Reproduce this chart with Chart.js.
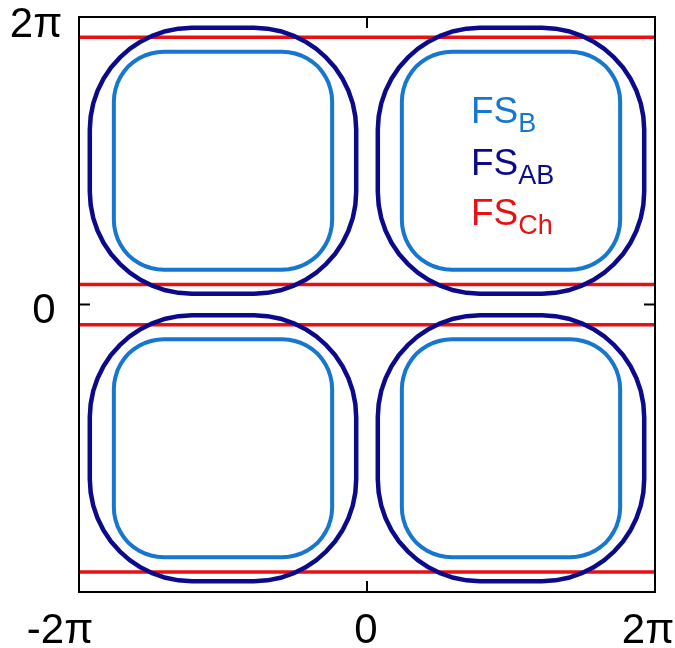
<!DOCTYPE html>
<html>
<head>
<meta charset="utf-8">
<script src="https://cdn.jsdelivr.net/npm/chart.js@4/dist/chart.umd.min.js"></script>
<style>
  html, body { margin: 0; padding: 0; background: #ffffff; }
  #wrap { width: 675px; height: 648px; }
</style>
</head>
<body>
<div id="wrap"><canvas id="c" width="675" height="648"></canvas></div>
<script>
// ---- data (all in units of pi) ----
const xTickValues = [-2, 0, 2];
const xTickLabels = ['-2\u03C0', '0', '2\u03C0'];
const yTickValues = [2, 0];
const yTickLabels = ['2\u03C0', '0'];

// horizontal Fermi-surface sheets (FS_Ch), y levels
const chLevels = [1.86, 0.14, -0.14, -1.86];

// pocket centres (one per quadrant)
const centerX = [-1, 1, -1, 1];
const centerY = [1, 1, -1, -1];

// FS_AB pocket: one corner (top to right) as offsets from pocket centre
const abCornerX = [0, 0.216, 0.308, 0.399, 0.487, 0.570, 0.648, 0.717, 0.778, 0.830, 0.871, 0.901, 0.919, 0.925, 0.925];
const abCornerY = [0.925, 0.925, 0.919, 0.901, 0.871, 0.830, 0.778, 0.717, 0.648, 0.570, 0.487, 0.399, 0.308, 0.216, 0];

// FS_B pocket: one corner (top to right)
const bCornerX = [0, 0.410, 0.456, 0.500, 0.543, 0.584, 0.622, 0.657, 0.687, 0.712, 0.732, 0.746, 0.755, 0.758, 0.758];
const bCornerY = [0.758, 0.758, 0.755, 0.746, 0.732, 0.712, 0.687, 0.657, 0.622, 0.584, 0.543, 0.500, 0.456, 0.410, 0];

const colB = '#1776d0';
const colAB = '#0a0a8a';
const colCh = '#e81010';

// closed outline from a corner by mirroring
function outline(cx, cy, kx, ky) {
  const pts = [];
  const n = kx.length;
  for (let i = 0; i < n; i++) pts.push({x: cx + kx[i], y: cy + ky[i]});
  for (let i = n - 2; i >= 0; i--) pts.push({x: cx + kx[i], y: cy - ky[i]});
  for (let i = 1; i < n; i++) pts.push({x: cx - kx[i], y: cy - ky[i]});
  for (let i = n - 2; i >= 0; i--) pts.push({x: cx - kx[i], y: cy + ky[i]});
  return pts;
}

const datasets = [];
for (let q = 0; q < centerX.length; q++) {
  datasets.push({
    label: 'FS_B', data: outline(centerX[q], centerY[q], bCornerX, bCornerY),
    showLine: true, borderColor: colB, borderWidth: 4, pointRadius: 0, tension: 0,
    borderJoinStyle: 'round', fill: false
  });
  datasets.push({
    label: 'FS_AB', data: outline(centerX[q], centerY[q], abCornerX, abCornerY),
    showLine: true, borderColor: colAB, borderWidth: 4.5, pointRadius: 0, tension: 0,
    borderJoinStyle: 'round', fill: false
  });
}
chLevels.forEach(v => {
  datasets.push({
    label: 'FS_Ch', data: [{x: -2, y: v}, {x: 2, y: v}],
    showLine: true, borderColor: colCh, borderWidth: 3.5, pointRadius: 0, tension: 0, fill: false
  });
});

const FONT = '"Liberation Sans", Arial, Helvetica, sans-serif';

const framePlugin = {
  id: 'frame',
  afterDraw(chart) {
    const ctx = chart.ctx;
    const a = chart.chartArea;
    const xs = chart.scales.x, ys = chart.scales.y;
    ctx.save();
    // frame
    ctx.strokeStyle = '#000';
    ctx.lineWidth = 2;
    ctx.strokeRect(a.left, a.top, a.right - a.left, a.bottom - a.top);
    // inward ticks at zero (mirrored)
    const x0 = xs.getPixelForValue(0), y0 = ys.getPixelForValue(0);
    ctx.beginPath();
    ctx.moveTo(x0, a.bottom); ctx.lineTo(x0, a.bottom - 11);
    ctx.moveTo(x0, a.top); ctx.lineTo(x0, a.top + 11);
    ctx.moveTo(a.left, y0); ctx.lineTo(a.left + 11, y0);
    ctx.moveTo(a.right, y0); ctx.lineTo(a.right - 11, y0);
    ctx.stroke();

    // tick labels
    ctx.fillStyle = '#000';
    ctx.font = '42px ' + FONT;
    ctx.textAlign = 'center';
    ctx.textBaseline = 'alphabetic';
    const xDx = [-19, -1, -7];
    xTickValues.forEach((v, i) => {
      ctx.fillText(xTickLabels[i], xs.getPixelForValue(v) + xDx[i], a.bottom + 51);
    });
    const yCx = [36, 44];
    const yDy = [20, 18];
    yTickValues.forEach((v, i) => {
      ctx.fillText(yTickLabels[i], yCx[i], ys.getPixelForValue(v) + yDy[i]);
    });

    // legend with subscripts
    const items = [['FS', 'B', colB], ['FS', 'AB', colAB], ['FS', 'Ch', colCh]];
    const lx = 471;
    const base = [123, 175, 225];
    ctx.textAlign = 'left';
    items.forEach((it, i) => {
      ctx.fillStyle = it[2];
      ctx.font = '37px ' + FONT;
      ctx.fillText(it[0], lx, base[i]);
      const w = ctx.measureText(it[0]).width;
      ctx.font = '27px ' + FONT;
      ctx.fillText(it[1], lx + w, base[i] + 9);
    });
    ctx.restore();
  }
};

new Chart(document.getElementById('c'), {
  type: 'scatter',
  data: { datasets },
  options: {
    responsive: false,
    animation: false,
    devicePixelRatio: 1,
    layout: { padding: { left: 79, top: 17, right: 20, bottom: 56 } },
    plugins: { legend: { display: false }, tooltip: { enabled: false } },
    scales: {
      x: { type: 'linear', min: -2, max: 2, display: false },
      y: { type: 'linear', min: -2, max: 2, display: false }
    }
  },
  plugins: [framePlugin]
});
</script>
</body>
</html>
